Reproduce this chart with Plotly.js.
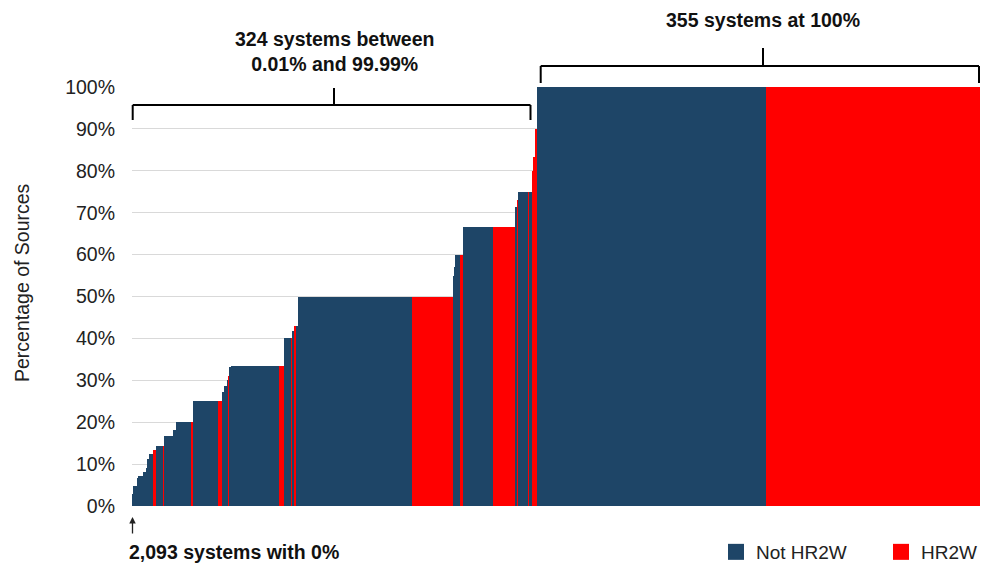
<!DOCTYPE html>
<html><head><meta charset="utf-8">
<script src="https://cdn.plot.ly/plotly-3.0.1.min.js"></script>
<style>html,body{margin:0;padding:0;background:#fff}#chart{width:984px;height:564px}</style>
</head><body><div id="chart"></div>
<script>
// Runs of systems sorted by percentage of sources (systems with 0% are not drawn)
const runValues = [2.8,4.8,6.6,7.1,8.0,9.0,11.1,12.5,13.3,14.3,14.3,16.7,18.2,20,20,25,25,27.3,28.6,30,31,33.2,33.3,33.3,40,40,41.7,42.9,42.9,50,50,55,57,60,60,66.7,66.7,71.4,73,75,75,75,80,83.3,90,100,100];
const runCounts = [1,3,1,4,2,1,2,3,2,6,1,7,2,12,2,20,3,2,2,1,1,1,39,4,5,1,2,1,2,91,33,1,1,4,2,24,18,1,1,8,1,2,1,2,1,184,171];
const runGroups = ['N','N','N','N','N','N','N','N','H','N','H','N','N','N','H','N','H','N','N','N','H','N','N','H','N','H','N','H','N','N','H','N','N','N','H','N','H','N','H','N','H','N','H','H','H','N','H'];
const seriesNames = {N:'Not HR2W', H:'HR2W'};
const seriesColors = {N:'#1e4567', H:'#ff0000'};
const yTickVals = [0,0.1,0.2,0.3,0.4,0.5,0.6,0.7,0.8,0.9,1];
const yTitle = 'Percentage of Sources';

const FONT = '"Liberation Sans", Arial, sans-serif';
const series = {N:{x:[],y:[],w:[]}, H:{x:[],y:[],w:[]}};
let start = 0;
for (let i = 0; i < runValues.length; i++) {
  const g = runGroups[i];
  series[g].x.push(start + runCounts[i] / 2);
  series[g].w.push(runCounts[i]);
  series[g].y.push(runValues[i] / 100);
  start += runCounts[i];
}
const total = start;

const traces = [];
['N','H'].forEach(g => {
  traces.push({type:'bar', x:series[g].x, y:series[g].y, width:series[g].w,
    marker:{color:seriesColors[g], line:{width:0}}, name:seriesNames[g], showlegend:false, hoverinfo:'y'});
});
['N','H'].forEach(g => {
  traces.push({type:'scatter', mode:'markers', x:[null], y:[null], name:seriesNames[g],
    marker:{symbol:'square', size:20, color:seriesColors[g]}, showlegend:true, hoverinfo:'skip'});
});

const W = 848, H = 419, L = 132, T = 87;
const px = v => (v - L) / W;
const py = v => (T + H - v) / H;
const line = (x0,y0,x1,y1) => ({type:'line', xref:'paper', yref:'paper', x0:px(x0), y0:py(y0), x1:px(x1), y1:py(y1), line:{color:'#000', width:2}});

const shapes = [
  line(132.7,120,132.7,105), line(132.7,105,530.5,105), line(530.5,105,530.5,120), line(334,105,334,88),
  line(540.7,83,540.7,66), line(540.7,66,979,66), line(979,66,979,83), line(763,66,763,48)
];

const boldFont = {family:FONT, size:19.5, color:'#111', weight:'bold'};
const annotations = [
  {xref:'paper', yref:'paper', x:px(334), y:py(51), xanchor:'center', yanchor:'middle', showarrow:false,
   text:'324 systems between<br>0.01% and 99.99%', font:boldFont},
  {xref:'paper', yref:'paper', x:px(763), y:py(20), xanchor:'center', yanchor:'middle', showarrow:false,
   text:'355 systems at 100%', font:boldFont},
  {xref:'paper', yref:'paper', x:px(127), y:py(552), xanchor:'left', yanchor:'middle', showarrow:false,
   text:'2,093 systems with 0%', font:boldFont},
  {xref:'paper', yref:'paper', x:px(132.5), y:py(517), text:'', showarrow:true, arrowhead:2, arrowsize:1, arrowwidth:1.3,
   arrowcolor:'#222', ax:0, ay:18},
  {xref:'paper', yref:'paper', x:px(22), y:py(283), xanchor:'center', yanchor:'middle', showarrow:false, textangle:-90,
   text:yTitle, font:{family:FONT, size:19.5, color:'#222'}}
];

const layout = {
  width:984, height:564,
  margin:{l:L, r:984-L-W, t:T, b:564-T-H, autoexpand:false},
  paper_bgcolor:'#fff', plot_bgcolor:'#fff',
  font:{family:FONT, size:19, color:'#222'},
  barmode:'overlay', bargap:0,
  xaxis:{range:[0,total], showticklabels:false, showgrid:false, zeroline:false, showline:false, ticks:'', fixedrange:true},
  yaxis:{range:[0,1], tickvals:yTickVals, tickformat:'.0%', showgrid:true, gridcolor:'#d9d9d9', gridwidth:1,
    zeroline:false, showline:false, ticks:'', ticklabelstandoff:16, fixedrange:true,
    tickfont:{family:FONT, size:19.5, color:'#222'}},
  legend:{orientation:'h', x:px(1046), xanchor:'right', y:py(552), yanchor:'middle', font:{family:FONT, size:19, color:'#222'},
    entrywidth:120, itemclick:false, itemdoubleclick:false, bgcolor:'rgba(0,0,0,0)'},
  shapes:shapes, annotations:annotations,
  showlegend:true
};

Plotly.newPlot('chart', traces, layout, {displayModeBar:false, staticPlot:true});
</script>
</body></html>
